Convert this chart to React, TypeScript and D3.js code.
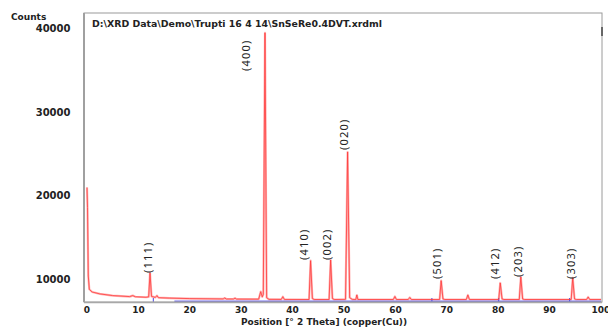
import * as d3 from "d3";
import { useEffect, useRef } from "react";

// scan: [2theta, counts]
const scan: [number, number][] = [
    [0.0, 21000], [0.1, 18600], [0.25, 10400], [0.45, 8800], [1.0, 8480],
    [2.5, 8250], [5.0, 8050], [8.3, 7930], [8.9, 8050], [9.4, 7910],
    [11.5, 7850], [12.0, 7900], [12.26, 10750], [12.55, 7950], [13.3, 7830],
    [13.6, 8050], [13.9, 7800], [16.0, 7750], [20.0, 7690], [26.5, 7650],
    [26.8, 7760], [27.1, 7640], [28.5, 7640], [28.8, 7750], [29.1, 7630],
    [33.4, 7620], [33.8, 8520], [34.1, 7900], [34.3, 8200], [34.63, 39500],
    [34.95, 7800], [35.4, 7600], [37.8, 7590], [38.1, 7920], [38.4, 7590],
    [43.2, 7580], [43.5, 12230], [43.85, 7700], [44.2, 7580], [47.1, 7580],
    [47.4, 12310], [47.75, 7700], [48.1, 7580], [50.3, 7600], [50.7, 25240],
    [51.1, 7800], [51.6, 7600], [52.3, 7580], [52.5, 8120], [52.7, 7580],
    [59.6, 7580], [59.9, 7940], [60.2, 7580], [62.5, 7580], [62.8, 7820],
    [63.1, 7580], [68.6, 7580], [68.9, 9830], [69.25, 7650], [69.6, 7580],
    [73.8, 7580], [74.1, 8120], [74.4, 7580], [80.1, 7580], [80.4, 9560],
    [80.75, 7650], [81.1, 7580], [84.1, 7580], [84.4, 10280], [84.75, 7650],
    [85.1, 7580], [94.2, 7580], [94.5, 10160], [94.85, 7650], [95.2, 7580],
    [97.2, 7580], [97.5, 7880], [97.8, 7580], [100, 7580]
];

// fitted background (blue)
const bgTheta = [17.0, 100];
const bgCounts = [7380, 7380];
const refSticks = [12.9, 67.1, 80.1, 93.9];

const hklLabels = ["(111)", "(400)", "(410)", "(002)", "(020)", "(501)", "(412)", "(203)", "(303)"];
const hklTheta = [12.65, 31.7, 43.0, 47.47, 50.78, 68.87, 80.16, 84.63, 94.88];
const hklCounts = [10750, 34940, 12310, 12310, 25480, 10040, 10040, 10280, 10040];

const xTicks = [0, 10, 20, 30, 40, 50, 60, 70, 80, 90, 100];
const yTicks = [10000, 20000, 30000, 40000];

const fileName = "D:\\XRD Data\\Demo\\Trupti 16 4 14\\SnSeRe0.4DVT.xrdml";

const App = () => {
    const ref = useRef<SVGSVGElement>(null);
    const width = 608;
    const height = 331;

    const frame = { left: 84, right: 602, top: 13, bottom: 302 };

    useEffect(() => {
        const svg = d3.select(ref.current);
        svg.selectAll("*").remove();

        const x = d3.scaleLinear().domain([0, 100]).range([87, 601]);
        const y = d3.scaleLinear().domain([10000, 40000]).range([279.3, 28.7]);

        svg.append("rect").attr("width", width).attr("height", height).attr("fill", "#fff");

        svg.append("defs").append("clipPath").attr("id", "plot")
            .append("rect")
            .attr("x", frame.left).attr("y", frame.top)
            .attr("width", frame.right - frame.left)
            .attr("height", frame.bottom - frame.top);

        const g = svg.append("g").attr("clip-path", "url(#plot)");

        const line = d3.line<[number, number]>().x((d) => x(d[0])).y((d) => y(d[1]));
        g.append("path")
            .attr("d", line(scan))
            .attr("fill", "none").attr("stroke", "#ffb3b3").attr("stroke-width", 2.2)
            .attr("stroke-linejoin", "round");

        // background line
        const bgLine = d3.line<number>().x((d) => x(d)).y((d, i) => y(bgCounts[i]));
        g.append("path")
            .attr("d", bgLine(bgTheta))
            .attr("fill", "none").attr("stroke", "#7571f2").attr("stroke-width", 1.5);

        g.selectAll(".stick").data(refSticks).enter().append("line")
            .attr("x1", (d) => x(d)).attr("x2", (d) => x(d))
            .attr("y1", frame.bottom - 4).attr("y2", frame.bottom)
            .attr("stroke", "#4a48e0").attr("stroke-width", 1);

        g.append("path")
            .attr("d", line(scan))
            .attr("fill", "none").attr("stroke", "#ff3b3b").attr("stroke-width", 0.8)
            .attr("stroke-linejoin", "round");

        // frame
        svg.append("rect")
            .attr("x", frame.left).attr("y", frame.top)
            .attr("width", frame.right - frame.left)
            .attr("height", frame.bottom - frame.top)
            .attr("fill", "none").attr("stroke", "#9a9a9a").attr("stroke-width", 1);
        svg.append("line")
            .attr("x1", frame.left).attr("x2", frame.left)
            .attr("y1", frame.top).attr("y2", frame.bottom)
            .attr("stroke", "#a0a0a0").attr("stroke-width", 2);
        svg.append("line")
            .attr("x1", frame.left).attr("x2", frame.right)
            .attr("y1", frame.bottom + 0.5).attr("y2", frame.bottom + 0.5)
            .attr("stroke", "#a8a8a8").attr("stroke-width", 1.5);
        svg.append("line")
            .attr("x1", frame.right).attr("x2", frame.right)
            .attr("y1", 27).attr("y2", 36)
            .attr("stroke", "#444").attr("stroke-width", 1.5);

        // peak labels
        hklLabels.forEach((lab, i) => {
            const px = x(hklTheta[i]);
            const py = y(hklCounts[i]);
            svg.append("text")
                .attr("transform", `translate(${px},${py}) rotate(-90)`)
                .attr("font-family", "Noto Sans")
                .attr("font-size", 11)
                .attr("letter-spacing", 1.2)
                .attr("fill", "#222")
                .text(lab);
        });

        // y labels
        svg.selectAll(".ylab").data(yTicks).enter().append("text")
            .attr("x", 70.5).attr("y", (d) => y(d) + 3.6)
            .attr("text-anchor", "end")
            .attr("font-family", "DejaVu Sans").attr("font-weight", "bold")
            .attr("font-size", 10).attr("fill", "#222")
            .text((d) => d);

        svg.selectAll(".xlab").data(xTicks).enter().append("text")
            .attr("x", (d) => x(d)).attr("y", 313)
            .attr("text-anchor", "middle")
            .attr("font-family", "DejaVu Sans").attr("font-weight", "bold")
            .attr("font-size", 9).attr("fill", "#222")
            .text((d) => d);

        svg.append("text")
            .attr("x", 11).attr("y", 19.5)
            .attr("font-family", "DejaVu Sans").attr("font-weight", "bold")
            .attr("font-size", 9).attr("fill", "#222")
            .text("Counts");

        svg.append("text")
            .attr("x", 324).attr("y", 325)
            .attr("text-anchor", "middle")
            .attr("font-family", "DejaVu Sans").attr("font-weight", "bold")
            .attr("font-size", 9).attr("fill", "#222")
            .text("Position  [° 2 Theta] (copper(Cu))");

        svg.append("text")
            .attr("x", 92).attr("y", 27)
            .attr("font-family", "DejaVu Sans").attr("font-weight", "bold")
            .attr("font-size", 8).attr("fill", "#222")
            .attr("textLength", 290).attr("lengthAdjust", "spacingAndGlyphs")
            .text(fileName);
    }, []);

    return (
        <svg
            ref={ref}
            width={width}
            height={height}
            style={{ position: "absolute", left: 0, top: 0, display: "block" }}
        ></svg>
    );
};

export default App;
